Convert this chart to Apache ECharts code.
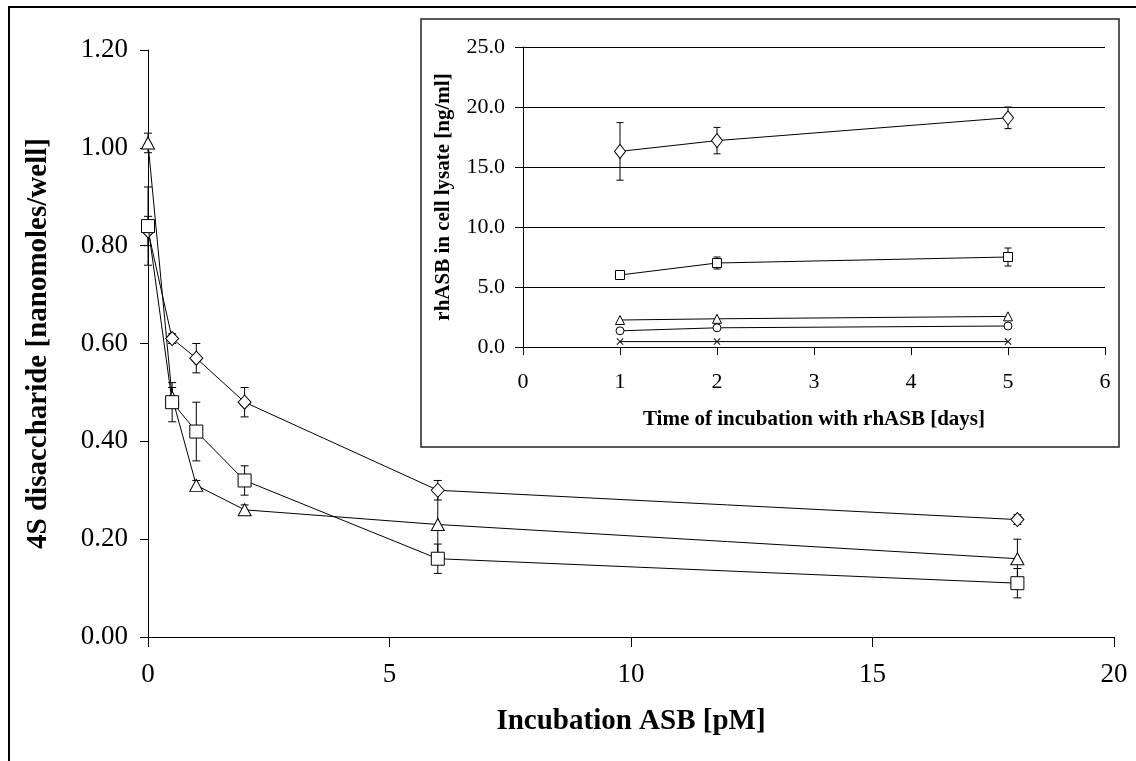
<!DOCTYPE html>
<html>
<head>
<meta charset="utf-8">
<script src="https://cdn.jsdelivr.net/npm/echarts@6/dist/echarts.min.js"></script>
<style>
html,body{margin:0;padding:0;background:#fff;}
#chart{width:1136px;height:761px;}
</style>
</head>
<body>
<div id="chart"></div>
<script>
// ---- Main chart data ----
const mainX = [0, 0.5, 1, 2, 6, 18];
const diamondMain = [0.83, 0.61, 0.57, 0.48, 0.30, 0.24];
const diamondMainErr = [0.03, 0.01, 0.03, 0.03, 0.02, 0.01];
const squareMain = [0.84, 0.48, 0.42, 0.32, 0.16, 0.11];
const squareMainErr = [0.08, 0.04, 0.06, 0.03, 0.03, 0.03];
const triangleMain = [1.01, 0.49, 0.31, 0.26, 0.23, 0.16];
const triangleMainErr = [0.02, 0.02, 0.01, 0.01, 0.07, 0.04];

// ---- Inset data ----
const days = [1, 2, 5];
const diamondInset = [16.3, 17.2, 19.1];
const diamondInsetErr = [2.4, 1.1, 0.9];
const squareInset = [6.0, 7.0, 7.5];
const squareInsetErr = [0.2, 0.5, 0.75];
const triangleInset = [2.25, 2.35, 2.55];
const circleInset = [1.35, 1.6, 1.75];
const crossInset = [0.45, 0.45, 0.45];

const FONT = '"Liberation Serif", "Times New Roman", serif';
const CROSS = 'path://M0,1L1,0L5,4L9,0L10,1L6,5L10,9L9,10L5,6L1,10L0,9L4,5Z';

function pts(xs, ys) { return xs.map((x, i) => [x, ys[i]]); }
function errs(xs, ys, es) { return xs.map((x, i) => [x, ys[i] - es[i], ys[i] + es[i]]); }

function errSeries(xi, yi, data, capW) {
  return {
    type: 'custom', xAxisIndex: xi, yAxisIndex: yi, z: 1, clip: false,
    encode: { x: 0, y: [1, 2] },
    data: data,
    renderItem: function (params, api) {
      const x = api.value(0);
      const lo = api.coord([x, api.value(1)]);
      const hi = api.coord([x, api.value(2)]);
      const st = { stroke: '#000', lineWidth: 1 };
      return {
        type: 'group', children: [
          { type: 'line', shape: { x1: lo[0], y1: lo[1], x2: hi[0], y2: hi[1] }, style: st },
          { type: 'line', shape: { x1: lo[0] - capW, y1: lo[1], x2: lo[0] + capW, y2: lo[1] }, style: st },
          { type: 'line', shape: { x1: hi[0] - capW, y1: hi[1], x2: hi[0] + capW, y2: hi[1] }, style: st }
        ]
      };
    }
  };
}

function lineSeries(xi, yi, data, symbol, size, filled, z) {
  return {
    type: 'line', xAxisIndex: xi, yAxisIndex: yi, data: data, clip: false,
    symbol: symbol, symbolSize: size, showAllSymbol: true, z: z || 3,
    lineStyle: { color: '#000', width: 1 },
    itemStyle: { color: filled ? '#000' : '#fff', borderColor: '#000', borderWidth: filled ? 0 : 1 },
    emphasis: { disabled: true },
    animation: false
  };
}

const chart = echarts.init(document.getElementById('chart'), null, { renderer: 'canvas' });
const axisCommon = {
  axisLine: { show: true, lineStyle: { color: '#000', width: 1 } },
  axisTick: { show: true, inside: false, lineStyle: { color: '#000', width: 1 } },
  splitLine: { show: false }
};

chart.setOption({
  animation: false,
  backgroundColor: '#fff',
  textStyle: { fontFamily: FONT },
  graphic: [
    { type: 'rect', shape: { x: 9, y: 7, width: 1200, height: 800 }, style: { fill: 'none', stroke: '#000', lineWidth: 2 }, silent: true },
    { type: 'rect', shape: { x: 421, y: 19, width: 698, height: 428 }, style: { fill: 'none', stroke: '#222', lineWidth: 1.5 }, silent: true }
  ],
  grid: [
    { left: 148, top: 50, width: 966, height: 587 },
    { left: 523, top: 47, width: 582, height: 300 }
  ],
  xAxis: [
    Object.assign({}, axisCommon, {
      gridIndex: 0, type: 'value', min: 0, max: 20, interval: 5,
      axisTick: { show: true, length: 10, lineStyle: { color: '#000' } },
      axisLabel: { fontFamily: FONT, fontSize: 27, color: '#000', margin: 24 },
      name: 'Incubation ASB [pM]', nameLocation: 'middle', nameGap: 70,
      nameTextStyle: { fontFamily: FONT, fontSize: 29, fontWeight: 'bold', color: '#000' }
    }),
    Object.assign({}, axisCommon, {
      gridIndex: 1, type: 'value', min: 0, max: 6, interval: 1,
      axisTick: { show: true, length: 8, lineStyle: { color: '#000' } },
      axisLabel: { fontFamily: FONT, fontSize: 22, color: '#000', margin: 24 },
      name: 'Time of incubation with rhASB [days]', nameLocation: 'middle', nameGap: 62,
      nameTextStyle: { fontFamily: FONT, fontSize: 21, fontWeight: 'bold', color: '#000' }
    })
  ],
  yAxis: [
    Object.assign({}, axisCommon, {
      gridIndex: 0, type: 'value', min: 0, max: 1.2, interval: 0.2,
      axisTick: { show: true, length: 8, lineStyle: { color: '#000' } },
      axisLabel: { fontFamily: FONT, fontSize: 27, color: '#000', margin: 20, formatter: v => v.toFixed(2) },
      name: '4S disaccharide [nanomoles/well]', nameLocation: 'middle', nameGap: 95, nameRotate: 90,
      nameTextStyle: { fontFamily: FONT, fontSize: 29, fontWeight: 'bold', color: '#000' }
    }),
    Object.assign({}, axisCommon, {
      gridIndex: 1, type: 'value', min: 0, max: 25, interval: 5,
      axisTick: { show: true, length: 8, lineStyle: { color: '#000' } },
      splitLine: { show: true, lineStyle: { color: '#000', width: 1 } },
      axisLabel: { fontFamily: FONT, fontSize: 22, color: '#000', margin: 18, formatter: v => v.toFixed(1) },
      name: 'rhASB in cell lysate [ng/ml]', nameLocation: 'middle', nameGap: 69, nameRotate: 90,
      nameTextStyle: { fontFamily: FONT, fontSize: 21, fontWeight: 'bold', color: '#000' }
    })
  ],
  series: [
    errSeries(0, 0, errs(mainX, diamondMain, diamondMainErr), 4),
    errSeries(0, 0, errs(mainX, squareMain, squareMainErr), 4),
    errSeries(0, 0, errs(mainX, triangleMain, triangleMainErr), 4),
    lineSeries(0, 0, pts(mainX, triangleMain), 'triangle', [13, 12], false, 3),
    lineSeries(0, 0, pts(mainX, diamondMain), 'diamond', [13, 14], false, 4),
    lineSeries(0, 0, pts(mainX, squareMain), 'rect', 13, false, 5),

    errSeries(1, 1, errs(days, diamondInset, diamondInsetErr), 3.5),
    errSeries(1, 1, errs(days, squareInset, squareInsetErr), 3.5),
    lineSeries(1, 1, pts(days, diamondInset), 'diamond', [11, 14], false),
    lineSeries(1, 1, pts(days, squareInset), 'rect', 9, false),
    lineSeries(1, 1, pts(days, triangleInset), 'triangle', [9, 9], false),
    lineSeries(1, 1, pts(days, circleInset), 'circle', 8, false),
    lineSeries(1, 1, pts(days, crossInset), CROSS, 7, true)
  ]
});
</script>
</body>
</html>
